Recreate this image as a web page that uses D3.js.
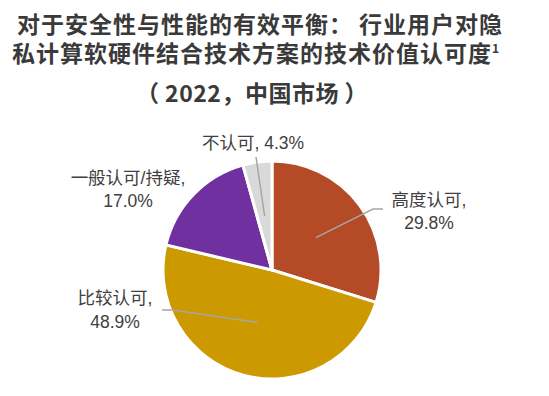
<!DOCTYPE html>
<html><head><meta charset="utf-8">
<script src="https://cdn.jsdelivr.net/npm/d3@7"></script>
<style>
html,body{margin:0;padding:0;background:#fff;}
svg{display:block;}
</style></head>
<body>
<svg id="chart" width="549" height="396"></svg>
<script>
// Data
const categories = ["高度认可", "比较认可", "一般认可/持疑", "不认可"];
const values = [29.8, 48.9, 17.0, 4.3];
const valueLabels = ["29.8%", "48.9%", "17.0%", "4.3%"];
const colors = ["#B54A27", "#CC9900", "#7030A0", "#D9D9D9"];
const titleLines = ["对于安全性与性能的有效平衡： 行业用户对隐", "私计算软硬件结合技术方案的技术价值认可度", "（ 2022，中国市场 ）"];

const W = 549, H = 396;
const cx = 272, cy = 270, R = 109;
const svg = d3.select("#chart");

// Title
const titleFont = "'Noto Sans CJK SC', 'Noto Sans', sans-serif";
const tY = [23, 52, 92];
const tX = [260, 256, 252];
titleLines.forEach((t, i) => {
  const txt = svg.append("text")
    .attr("x", tX[i])
    .attr("y", tY[i])
    .attr("text-anchor", "middle")
    .attr("dominant-baseline", "central")
    .attr("font-family", titleFont)
    .attr("font-weight", "bold")
    .attr("font-size", 23)
    .attr("letter-spacing", i === 2 ? 0.5 : 1)
    .attr("fill", "#3A3A3A")
    .text(t);
  if (i === 1) {
    txt.append("tspan").attr("font-size", 12).attr("dy", -5).text("1");
  }
});

// Pie
const pie = d3.pie().sort(null).value(d => d)(values);
const arc = d3.arc().innerRadius(0).outerRadius(R);
const g = svg.append("g").attr("transform", `translate(${cx},${cy})`);
g.selectAll("path").data(pie).enter().append("path")
  .attr("d", arc)
  .attr("fill", (d, i) => colors[i])
  .attr("stroke", "#fff")
  .attr("stroke-width", 3)
  .attr("stroke-linejoin", "miter");

// Labels (layout positions)
const labelLayout = [
  {x: 429, y1: 200, y2: 223, line: [[383, 209], [373, 209]], twoLines: true},
  {x: 115, y1: 298, y2: 322, line: [[162, 310], [173, 310]], twoLines: true},
  {x: 128, y1: 178, y2: 201, line: null, twoLines: true},
  {x: 253, y1: 143, line: [[256, 157]], twoLines: false}
];
const labelFont = "'Liberation Sans', Arial, 'Noto Sans CJK SC', sans-serif";

pie.forEach((d, i) => {
  const L = labelLayout[i];
  if (L.line) {
    const c = arc.centroid(d);
    const inner = [cx + c[0], cy + c[1]];
    const pts = L.line.concat([inner]);
    svg.append("path")
      .attr("d", d3.line()(pts))
      .attr("fill", "none")
      .attr("stroke", "#A6A6A6")
      .attr("stroke-width", 1.5);
  }
  const common = t => t.attr("text-anchor", "middle")
    .attr("dominant-baseline", "central")
    .attr("font-family", labelFont)
    .attr("font-size", 17.5)
    .attr("fill", "#404040");
  if (L.twoLines) {
    common(svg.append("text").attr("x", L.x).attr("y", L.y1)).text(categories[i] + ",");
    common(svg.append("text").attr("x", L.x).attr("y", L.y2)).text(valueLabels[i]);
  } else {
    common(svg.append("text").attr("x", L.x).attr("y", L.y1)).text(categories[i] + ", " + valueLabels[i]);
  }
});
</script>
</body></html>
